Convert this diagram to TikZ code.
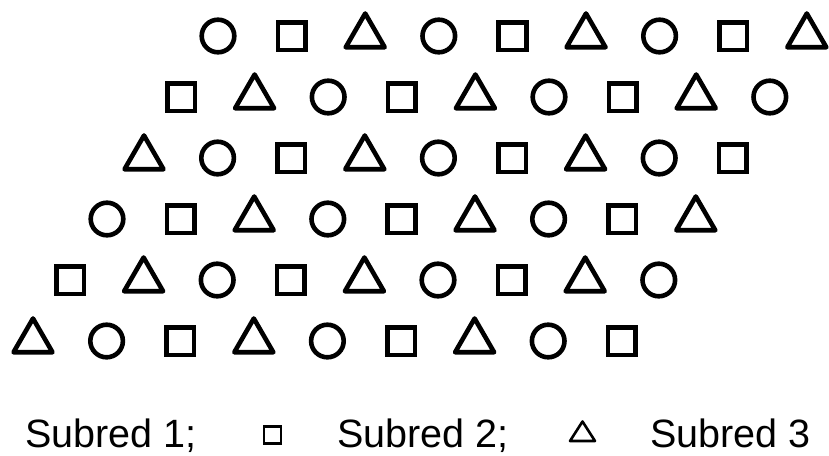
\documentclass[tikz,border=0pt]{standalone}
\usepackage{fontspec}
\setmainfont{Liberation Sans}
\begin{document}
\begin{tikzpicture}[x=1pt,y=-1pt,
  shp/.style={draw=black,line width=4.6pt,fill=none},
  tri/.style={shp,line join=round},
  lshp/.style={draw=black,line width=2.6pt},
  lbl/.style={anchor=base west,inner sep=0pt,font=\fontsize{39.5}{46}\selectfont}]
\useasboundingbox (0,0) rectangle (829,455);
\foreach \r in {0,...,5}{
  \foreach \c in {0,...,8}{
    \pgfmathsetmacro\px{218-37*\r+73.6*\c}
    \pgfmathsetmacro\py{36+61*\r}
    \pgfmathtruncatemacro\t{mod(\r+\c,3)}
    \ifcase\t
      \draw[shp] (\px,\py) circle[radius=16.3];
    \or
      \draw[shp] (\px-13.8,\py-13.8) rectangle (\px+13.8,\py+13.8);
    \or
      \draw[tri] (\px,\py-22.5) -- (\px+19.5,\py+11.25) -- (\px-19.5,\py+11.25) -- cycle;
    \fi
  }
}
\node[lbl] (s1) at (25,447) {Subred 1;};
\draw[lshp] (264,426.5) rectangle (281,443.5);
\node[lbl] (s2) at (337,447) {Subred 2;};
\draw[lshp,line join=round] (582.5,421.5) -- (595,441) -- (570,441) -- cycle;
\node[lbl] (s3) at (650,447) {Subred 3};
\end{tikzpicture}
\end{document}
